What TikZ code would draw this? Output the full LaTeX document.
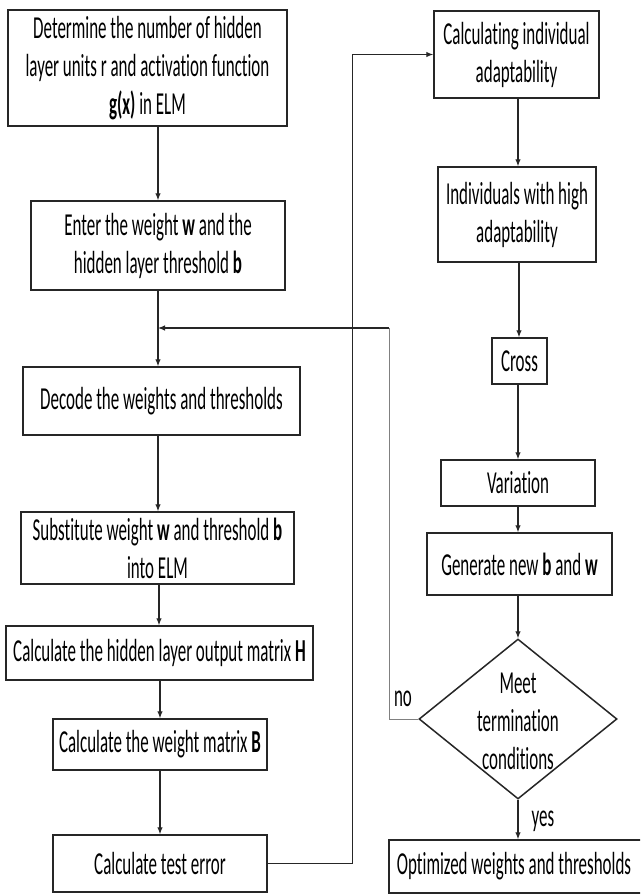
\documentclass[tikz,border=0pt]{standalone}
\usepackage{fontspec}
\setmainfont{Carlito}[FakeStretch=0.53, Ligatures=NoCommon]
\usetikzlibrary{shapes.geometric,arrows.meta}
\begin{document}
\begin{tikzpicture}[x=1pt,y=-1pt,
  every node/.style={font=\fontsize{32}{38}\selectfont, text=black},
  box/.style={draw=black!85, line width=1.5pt, rectangle, inner sep=0pt, align=center},
  arr/.style={draw=black!85, line width=1.1pt, -{Latex[length=7pt,width=5.5pt]}},
  fbg/.style={draw=black!50, line width=1pt},
  lbl/.style={inner sep=0pt}]
\clip (0,0) rectangle (640,894);
\fill[white] (0,0) rectangle (640,894);

\node[box, minimum width=279, minimum height=116] (b1) at (147.5,68)
  {Determine the number of hidden\\layer units r and activation function\\\textbf{g(x)} in ELM};
\node[box, minimum width=254, minimum height=89] (b2) at (158,245.5)
  {Enter the weight \textbf{w} and the\\hidden layer threshold \textbf{b}};
\node[box, minimum width=277, minimum height=68] (b3) at (161.5,401)
  {Decode the weights and thresholds};
\node[box, minimum width=273, minimum height=72] (b4) at (157.5,548)
  {Substitute weight \textbf{w} and threshold \textbf{b}\\into ELM};
\node[box, minimum width=307, minimum height=54] (b5) at (159.5,653)
  {Calculate the hidden layer output matrix \textbf{H}};
\node[box, minimum width=214, minimum height=51] (b6) at (160,744.5)
  {Calculate the weight matrix \textbf{B}};
\node[box, minimum width=214, minimum height=57] (b7) at (160,863.5)
  {Calculate test error};

\node[box, minimum width=165, minimum height=87] (b8) at (516.5,54.5)
  {Calculating individual\\adaptability};
\node[box, minimum width=158, minimum height=95] (b9) at (517,214.5)
  {Individuals with high\\adaptability};
\node[box, minimum width=55, minimum height=46] (cross) at (519.5,361) {Cross};
\node[box, minimum width=154, minimum height=46] (var) at (518,483) {Variation};
\node[box, minimum width=185, minimum height=62] (gen) at (519.5,564)
  {Generate new \textbf{b} and \textbf{w}};
\node[diamond, draw=black!85, line width=1.5pt, inner sep=0pt, aspect=1.2375,
  minimum width=198, minimum height=160] (dia) at (518,719) {};
\node[lbl, align=center] (diatext) at (518,721) {Meet\\termination\\conditions};
\node[box, minimum width=262, minimum height=53] (fin) at (520,866.5) {};
\node[lbl] (fintext) at (514,866) {Optimized weights and thresholds};

\node[lbl] (no) at (403,699) {no};
\node[lbl] (yes) at (543,821) {yes};

\coordinate (colL) at (158,0);
\coordinate (colL2) at (159,0);
\coordinate (colR) at (518,0);
\coordinate (colR2) at (519,0);
\coordinate (join) at (158,328);
\coordinate (fbA) at (389,719);
\coordinate (fbB) at (389,328);

\draw[arr] (b1.south -| b2.north) -- (b2.north);
\draw[arr] (b2.south) -- (b2.south |- b3.north);
\draw[arr] (colL |- b3.south) -- (colL |- b4.north);
\draw[arr] (colL2 |- b4.south) -- (colL2 |- b5.north);
\draw[arr] (b5.south -| b6.north) -- (b6.north);
\draw[arr] (b6.south) -- (b7.north);
\draw[arr] (b7.east) -- ++(85,0) |- (b8.west);

\draw[arr] (colR |- b8.south) -- (colR |- b9.north);
\draw[arr] (colR2 |- b9.south) -- (colR2 |- cross.north);
\draw[arr] (colR |- cross.south) -- (colR |- var.north);
\draw[arr] (colR |- var.south) -- (colR |- gen.north);
\draw[arr] (gen.south -| dia.north) -- (dia.north);
\draw[arr] (dia.south) -- (dia.south |- fin.north);

\draw[fbg] (dia.west) -- (fbA) -- (fbB);
\draw[arr] (fbB) -- (join);
\end{tikzpicture}
\end{document}
